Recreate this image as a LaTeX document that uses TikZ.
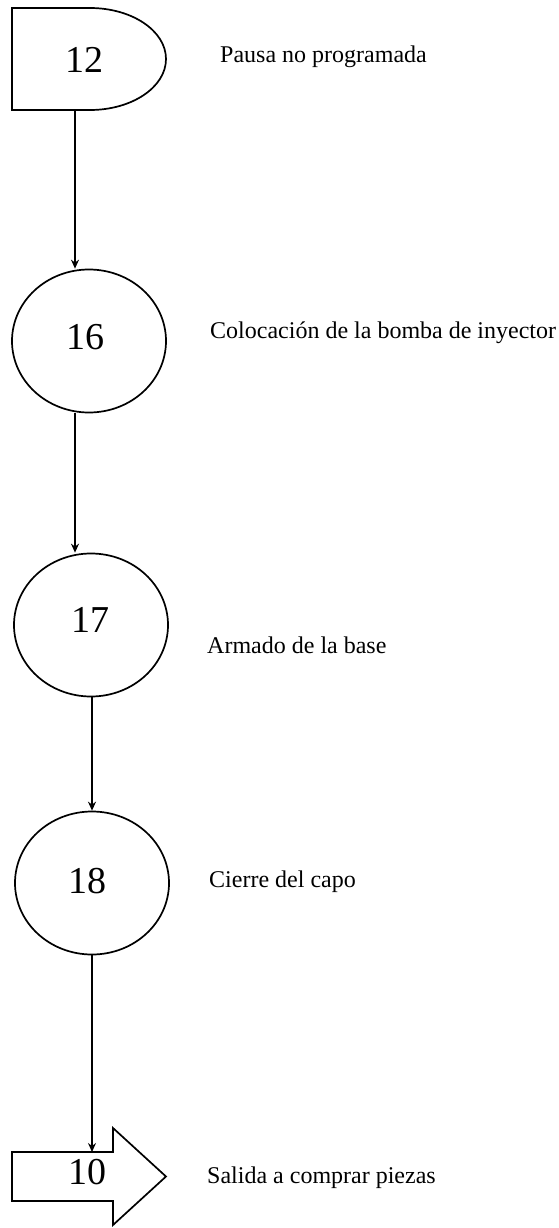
\documentclass[tikz,border=0pt]{standalone}
\usepackage{fontspec}
\setmainfont{Liberation Serif}
\usetikzlibrary{shapes.geometric,arrows.meta,calc}
\begin{document}
\begin{tikzpicture}[x=1pt,y=1pt,
  outline/.style={draw=black,line width=1.7pt},
  circ/.style={ellipse,outline,minimum width=154pt,minimum height=143pt,inner sep=0pt},
  num/.style={font=\fontsize{38}{40}\selectfont,inner sep=0pt},
  lbl/.style={font=\fontsize{24}{26}\selectfont,inner sep=0pt,anchor=base west},
  conn/.style={line width=2.2pt,-{Stealth[length=9pt,width=8pt]}}]
\useasboundingbox (0,0) rectangle (558,-1228);
\fill[white] (0,0) rectangle (558,-1228);
% delay symbol
\draw[outline] (12,-8) -- (90,-8) arc[start angle=90,end angle=-90,x radius=76,y radius=51] -- (12,-110) -- cycle;
\node[num] (n12) at (84,-60) {12};
\coordinate (d12s) at (75,-110);
% operations
\node[circ] (c16) at (89,-341) {};
\node[num] (n16) at (85,-337) {16};
\node[circ] (c17) at (91,-625) {};
\node[num] (n17) at (90,-620) {17};
\node[circ] (c18) at (92,-883) {};
\node[num] (n18) at (87.5,-881) {18};
% transport arrow
\draw[outline] (12,-1152) -- (113,-1152) -- (113,-1128) -- (166,-1176.5) -- (113,-1225) -- (113,-1201) -- (12,-1201) -- cycle;
\node[num] (n10) at (87.5,-1172) {10};
\coordinate (a10t) at (92,-1152);
% connection points
\coordinate (x75) at (75,0);
\coordinate (x92) at (92,0);
\coordinate (c16t) at (c16.north -| x75);
\coordinate (c16b) at (c16.south -| x75);
\coordinate (c17t) at (c17.north -| x75);
\coordinate (c17b) at (c17.south -| x92);
\coordinate (c18t) at (c18.north -| x92);
\coordinate (c18b) at (c18.south -| x92);
% connectors
\draw[conn] (d12s) -- (c16t);
\draw[conn] (c16b) -- (c17t);
\draw[conn] (c17b) -- (c18t);
\draw[conn] (c18b) -- (a10t);
% labels
\node[lbl] (l12) at (220,-63) {Pausa no programada};
\node[lbl] (l16) at (210,-338) {Colocación de la bomba de inyector};
\node[lbl] (l17) at (207,-653) {Armado de la base};
\node[lbl] (l18) at (209,-887) {Cierre del capo};
\node[lbl] (l10) at (207,-1183) {Salida a comprar piezas};
\end{tikzpicture}
\end{document}
